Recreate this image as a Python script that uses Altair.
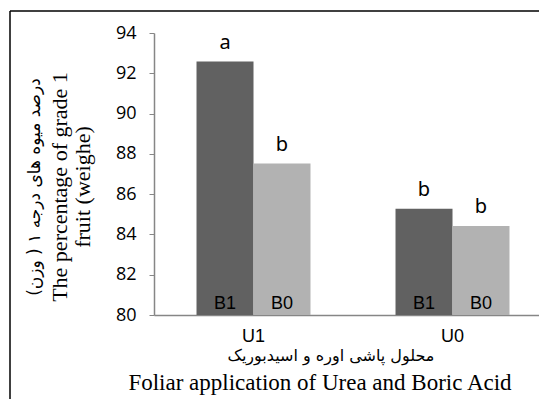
import altair as alt
import pandas as pd

groups = ["U1", "U1", "U0", "U0"]
boron = ["B1", "B0", "B1", "B0"]
values = [92.58, 87.52, 85.28, 84.42]
letters = ["a", "b", "b", "b"]
y_ticks = [80, 82, 84, 86, 88, 90, 92, 94]

df = pd.DataFrame({"group": groups, "boron": boron, "value": values, "letter": letters})

W, H = 385, 282

x_enc = alt.X("group:N", sort=["U1", "U0"],
              scale=alt.Scale(range=[0, 398], paddingInner=0, paddingOuter=0),
              axis=alt.Axis(title=None, labelAngle=0, ticks=False, labelFontSize=18,
                            labelFont="Liberation Sans", labelColor="black",
                            domainColor="#868686", domainWidth=1.5, labelPadding=12))
xo_enc = alt.XOffset("boron:N", sort=["B1", "B0"],
                     scale=alt.Scale(paddingInner=0, paddingOuter=0.746))
y_scale = alt.Scale(domain=[80, 94], zero=False, nice=False)

bars = alt.Chart(df).mark_bar().encode(
    x=x_enc, xOffset=xo_enc,
    y=alt.Y("value:Q", scale=y_scale,
            axis=alt.Axis(title=None, values=y_ticks, grid=False, tickSize=5,
                          labelFontSize=18, labelFont="Open Sans", labelColor="black",
                          domainColor="#868686", tickColor="#868686", domainWidth=1.5,
                          labelPadding=13)),
    y2=alt.datum(80),
    color=alt.Color("boron:N", scale=alt.Scale(domain=["B1", "B0"], range=["#616161", "#b2b2b2"]),
                    legend=None),
)

letter_text = alt.Chart(df).mark_text(baseline="bottom", dy=-9, fontSize=20, font="Noto Sans",
                                      color="black").encode(
    x=alt.X("group:N", sort=["U1", "U0"]), xOffset=alt.XOffset("boron:N", sort=["B1", "B0"]),
    y=alt.Y("value:Q", scale=y_scale), text="letter:N")

inner_text = alt.Chart(df).mark_text(baseline="middle", fontSize=18, font="Liberation Sans",
                                     color="black").encode(
    x=alt.X("group:N", sort=["U1", "U0"]), xOffset=alt.XOffset("boron:N", sort=["B1", "B0"]),
    y=alt.value(H - 11), text="boron:N")

def label(txt, x, y, size, font, angle=0):
    return alt.Chart(pd.DataFrame({"t": [txt]})).mark_text(
        fontSize=size, font=font, angle=angle, color="black", baseline="middle", align="center"
    ).encode(x=alt.value(x), y=alt.value(y), text="t:N")

ytitle_fa = label("درصد میوه های درجه ۱ ( وزن)", -119, 154, 17, "DejaVu Sans", 270)
ytitle_en1 = label("The percentage of grade 1", -94, 154, 22, "Liberation Serif", 270)
ytitle_en2 = label("fruit (weighe)", -71, 154, 22, "Liberation Serif", 270)
xtitle_fa = label("محلول پاشی اوره و اسیدبوریک", 177, 323, 16, "DejaVu Sans")
xtitle_en = label("Foliar application of Urea and Boric Acid", 166, 350, 23, "Liberation Serif")

border_top = alt.Chart(pd.DataFrame({"a": [0]})).mark_rule(color="black", strokeWidth=1.5).encode(
    x=alt.value(-144), x2=alt.value(W + 10), y=alt.value(-22))
border_left = alt.Chart(pd.DataFrame({"a": [0]})).mark_rule(color="black", strokeWidth=1.5).encode(
    x=alt.value(-144), y=alt.value(-22), y2=alt.value(H + 120))

chart = alt.layer(
    bars, letter_text, inner_text, ytitle_fa, ytitle_en1, ytitle_en2, xtitle_fa, xtitle_en,
    border_top, border_left
).properties(
    width=W, height=H,
    autosize=alt.AutoSizeParams(type="none"),
    padding={"left": 146, "top": 25, "right": 0, "bottom": 84},
).configure_view(stroke=None)

chart.save("out.html", embed_options={"renderer": "svg", "actions": False})
